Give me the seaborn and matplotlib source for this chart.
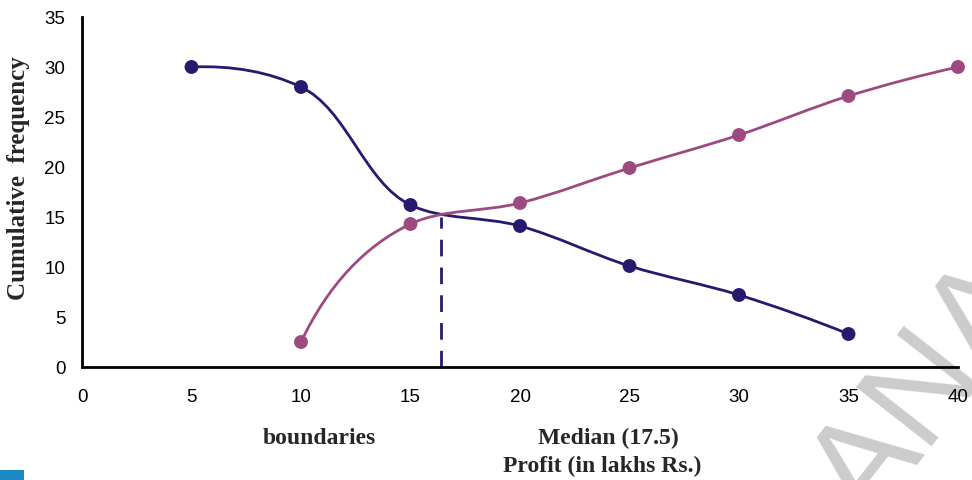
import numpy as np
import pandas as pd
import seaborn as sns
import matplotlib
matplotlib.use("Agg")
import matplotlib.pyplot as plt
from matplotlib.path import Path
from matplotlib.patches import PathPatch, Rectangle

# ---- data ----
more_x = [5, 10, 15, 20, 25, 30, 35]
more_y = [30, 28, 16.2, 14.1, 10.1, 7.2, 3.3]
less_x = [10, 15, 20, 25, 30, 35, 40]
less_y = [2.5, 14.3, 16.4, 19.9, 23.2, 27.1, 30]
median_x = 16.4
median_y = 15.0
x_ticks = [0, 5, 10, 15, 20, 25, 30, 35, 40]
y_ticks = [0, 5, 10, 15, 20, 25, 30, 35]

BLUE = "#26196e"
MAG = "#9c4a80"

sns.set_theme(style="white")
plt.rcParams["font.family"] = ["Liberation Sans", "DejaVu Sans"]

fig = plt.figure(figsize=(9.72, 4.8), dpi=100)
ax = fig.add_axes([82/972, 1-367/480, (958-82)/972, (367-17)/480])
ax.patch.set_alpha(0)
ax.set_xlim(0, 40)
ax.set_ylim(0, 35)


def smooth_path(xs, ys, alpha=1.0):
    """Smoothed (chordal Hermite) curve through the points, as Bezier path
    built in display space and mapped back to data space."""
    P = ax.transData.transform(np.column_stack([xs, ys]))
    n = len(P)
    d = np.linalg.norm(np.diff(P, axis=0), axis=1) ** alpha
    m = np.zeros_like(P)
    for i in range(1, n - 1):
        a, b = d[i - 1], d[i]
        m[i] = ((P[i] - P[i - 1]) / a) * (b / (a + b)) + ((P[i + 1] - P[i]) / b) * (a / (a + b))
    m[0] = 2 * (P[1] - P[0]) / d[0] - m[1]
    m[-1] = 2 * (P[-1] - P[-2]) / d[-1] - m[-2]
    verts = [P[0]]
    codes = [Path.MOVETO]
    for i in range(n - 1):
        verts += [P[i] + m[i] * d[i] / 3, P[i + 1] - m[i + 1] * d[i] / 3, P[i + 1]]
        codes += [Path.CURVE4] * 3
    verts = ax.transData.inverted().transform(np.array(verts))
    return Path(verts, codes)


for xs, ys, c in [(more_x, more_y, BLUE), (less_x, less_y, MAG)]:
    patch = PathPatch(smooth_path(xs, ys), facecolor="none", edgecolor=c,
                      lw=2.0, transform=ax.transData, zorder=2, clip_on=False)
    ax.add_patch(patch)

df_more = pd.DataFrame({"x": more_x, "y": more_y})
df_less = pd.DataFrame({"x": less_x, "y": less_y})
sns.scatterplot(data=df_more, x="x", y="y", ax=ax, color=BLUE, s=100,
                edgecolor="none", zorder=3, clip_on=False)
sns.scatterplot(data=df_less, x="x", y="y", ax=ax, color=MAG, s=100,
                edgecolor="none", zorder=3, clip_on=False)

ax.plot([median_x, median_x], [0, median_y], color=BLUE, lw=2.0,
        dashes=(6, 4), zorder=2)

ax.set_xlim(0, 40)
ax.set_ylim(0, 35)
ax.set_xticks(x_ticks)
ax.set_yticks(y_ticks)
ax.set_xticklabels([str(v) for v in x_ticks])
ax.set_yticklabels([str(v) for v in y_ticks])
ax.tick_params(axis="x", direction="out", length=6, width=2, color="black",
               labelsize=13.5, pad=10, labelcolor="black")
ax.tick_params(axis="y", direction="out", length=5, width=2, color="black",
               labelsize=13.5, pad=7, labelcolor="black")
ax.set_xlabel("")
ax.set_ylabel("")
for s in ["top", "right"]:
    ax.spines[s].set_visible(False)
for s in ["left", "bottom"]:
    ax.spines[s].set_color("black")
    ax.spines[s].set_linewidth(2)

serif = ["Liberation Serif", "DejaVu Serif"]
fig.text(19/972, 1-178/480, "Cumulative  frequency", rotation=90,
         ha="center", va="center", fontsize=18, fontweight="bold", family=serif)
fig.text(319/972, 1-438/480, "boundaries", ha="center", va="center",
         fontsize=17, fontweight="bold", family=serif)
fig.text(608/972, 1-438/480, "Median (17.5)", ha="center", va="center",
         fontsize=17, fontweight="bold", family=serif)
fig.text(602/972, 1-466/480, "Profit (in lakhs Rs.)", ha="center", va="center",
         fontsize=17, fontweight="bold", family=serif)

# watermark (behind the axes content)
fig.text(928/972, 1-392/480, "ANA", rotation=52, ha="center", va="center",
         fontsize=100, color="#cccccc", zorder=-5)

fig.patches.append(Rectangle((0, 0), 24/972, 10/480, transform=fig.transFigure,
                             facecolor="#1b88c4", edgecolor="none"))

fig.savefig("out.png", dpi=100)
